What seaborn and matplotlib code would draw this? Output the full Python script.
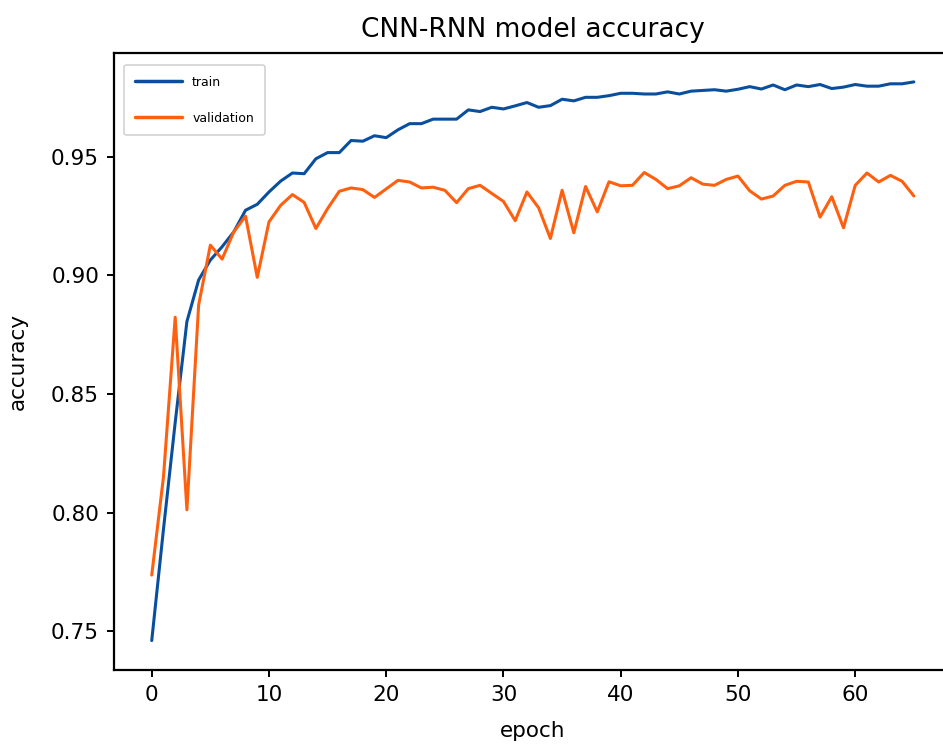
import matplotlib
matplotlib.use("Agg")
import matplotlib.pyplot as plt
import seaborn as sns
import pandas as pd
import numpy as np

epochs = list(range(66))
train_acc = [
    0.7461, 0.793, 0.838, 0.8806, 0.8981, 0.9065, 0.9121, 0.9184, 0.9275, 0.9300,
    0.9352, 0.9398, 0.9432, 0.9429, 0.9492, 0.9518, 0.9518, 0.9569, 0.9566, 0.9589,
    0.9581, 0.9614, 0.9640, 0.9640, 0.9659, 0.9659, 0.9659, 0.9698, 0.9691, 0.9709,
    0.9702, 0.9715, 0.9729, 0.9709, 0.9716, 0.9743, 0.9736, 0.9751, 0.9751, 0.9758,
    0.9768, 0.9768, 0.9765, 0.9765, 0.9774, 0.9765, 0.9777, 0.9780, 0.9783, 0.9777,
    0.9785, 0.9796, 0.9786, 0.9803, 0.9783, 0.9803, 0.9796, 0.9805, 0.9788, 0.9794,
    0.9805, 0.9798, 0.9798, 0.9808, 0.9808, 0.9816,
]
val_acc = [
    0.7737, 0.815, 0.8824, 0.8012, 0.8876, 0.9128, 0.9069, 0.9184, 0.9250, 0.8992,
    0.9226, 0.9296, 0.9341, 0.9308, 0.9198, 0.9282, 0.9355, 0.9369, 0.9362, 0.9329,
    0.9365, 0.9401, 0.9394, 0.9369, 0.9372, 0.9359, 0.9307, 0.9366, 0.9380, 0.9346,
    0.9312, 0.9231, 0.9352, 0.9285, 0.9156, 0.9359, 0.9180, 0.9375, 0.9268, 0.9395,
    0.9378, 0.9380, 0.9434, 0.9405, 0.9366, 0.9378, 0.9412, 0.9385, 0.9380, 0.9405,
    0.9419, 0.9357, 0.9322, 0.9335, 0.9380, 0.9397, 0.9394, 0.9246, 0.9332, 0.9201,
    0.9380, 0.9432, 0.9394, 0.9422, 0.9397, 0.9335,
]
series_names = ["train", "validation"]
colors = ["#0a4f9e", "#ff6010"]

df = pd.DataFrame({
    "epoch": epochs * 2,
    "accuracy": train_acc + val_acc,
    "series": [series_names[0]] * len(epochs) + [series_names[1]] * len(epochs),
})

sns.set_theme(style="ticks")
plt.rcParams["font.family"] = ["DejaVu Sans"]
plt.rcParams["text.color"] = "black"
plt.rcParams["axes.labelcolor"] = "black"
plt.rcParams["xtick.color"] = "black"
plt.rcParams["ytick.color"] = "black"

fig = plt.figure(figsize=(9.43, 7.44), dpi=100)
ax = fig.add_axes([0.1205, 0.0995, 0.889, 0.829])

sns.lineplot(data=df, x="epoch", y="accuracy", hue="series",
             palette=dict(zip(series_names, colors)), linewidth=2.2, ax=ax)

for name, s in ax.spines.items():
    s.set_visible(name != "right")
    s.set_linewidth(1.6)
    s.set_color("black")

ax.set_xticks([0, 10, 20, 30, 40, 50, 60])
ax.set_yticks([0.75, 0.80, 0.85, 0.90, 0.95])
ax.set_yticklabels(["0.75", "0.80", "0.85", "0.90", "0.95"])
ax.tick_params(axis="both", labelsize=15.5, length=5, width=1.4, color="black",
               labelcolor="black", pad=5.5)
ax.set_xlabel("epoch", fontsize=15.5, labelpad=12)
ax.set_ylabel("accuracy", fontsize=15.5, labelpad=17)
ax.set_title("CNN-RNN model accuracy", fontsize=19, pad=12, color="black")
ax.set_xlim(-3.25, 68.25)
ax.set_ylim(0.7337, 0.9937)

leg = ax.legend(loc="upper left", bbox_to_anchor=(0.0124, 0.981), borderaxespad=0,
                fontsize=9, handlelength=3.8, labelspacing=1.85, handletextpad=0.8,
                borderpad=0.85, frameon=True, fancybox=True, title=None)
leg.get_frame().set_edgecolor("#c8c8c8")
leg.get_frame().set_linewidth(1.2)
for text in leg.get_texts():
    text.set_color("black")
for line in leg.get_lines():
    line.set_linewidth(2.5)

fig.savefig("out.png", dpi=100)
